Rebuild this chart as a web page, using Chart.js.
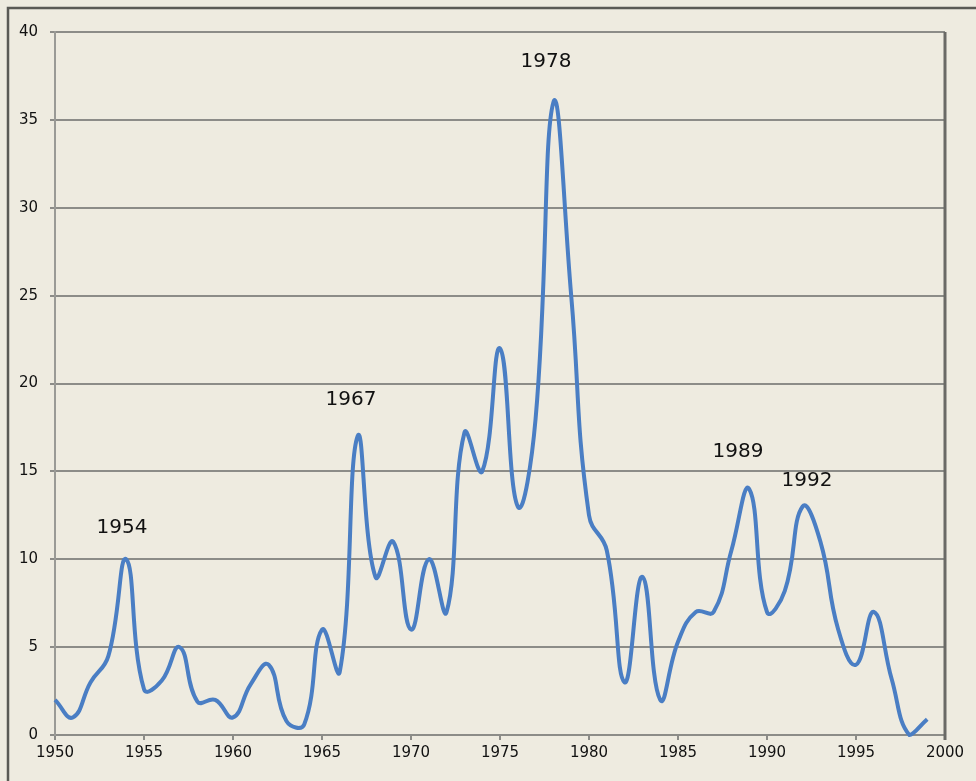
<!DOCTYPE html>
<html>
<head>
<meta charset="utf-8">
<script src="https://cdn.jsdelivr.net/npm/chart.js@4"></script>
<style>
  body { margin: 0; background: #eeebe0; }
  #wrap { width: 976px; height: 781px; }
</style>
</head>
<body>
<div id="wrap"><canvas id="myChart" width="976" height="781"></canvas></div>
<script>
// yearly values
const years = [1950, 1951, 1952, 1953, 1954, 1955, 1956, 1957, 1958, 1959,
               1960, 1961, 1962, 1963, 1964, 1965, 1966, 1967, 1968, 1969,
               1970, 1971, 1972, 1973, 1974, 1975, 1976, 1977, 1978, 1979,
               1980, 1981, 1982, 1983, 1984, 1985, 1986, 1987, 1988, 1989,
               1990, 1991, 1992, 1993, 1994, 1995, 1996, 1997, 1998, 1999];
const values = [2, 1, 3, 4.5, 10, 2.6, 3.1, 5, 1.9, 2,
                1, 2.9, 4, 0.8, 0.6, 6, 3.6, 17, 9, 11,
                6, 10, 7, 17.2, 15, 22, 13, 18, 36, 25,
                12.5, 10.5, 3, 9, 2, 5.3, 7, 7, 10.5, 14,
                7, 8.2, 13, 11, 6, 4, 7, 3.2, 0, 0.9];

// peak labels and where they sit (data units)
const peakLabels = ['1954', '1967', '1978', '1989', '1992'];
const peakLabelX = [1953.76, 1966.63, 1977.58, 1988.37, 1992.25];
const peakLabelY = [11.8, 19.05, 38.3, 16.1, 14.45];

const yTicks = [0, 5, 10, 15, 20, 25, 30, 35, 40];

const points = years.map((yr, i) => ({ x: yr, y: values[i] }));

// frame, right border and peak labels
const decorPlugin = {
    id: 'decor',
    beforeDraw(chart) {
        const ctx = chart.ctx;
        ctx.save();
        ctx.fillStyle = '#eeebe0';
        ctx.fillRect(0, 0, chart.width, chart.height);
        ctx.strokeStyle = '#5a5a55';
        ctx.lineWidth = 2.5;
        ctx.beginPath();
        ctx.moveTo(8, chart.height);
        ctx.lineTo(8, 8);
        ctx.lineTo(chart.width, 8);
        ctx.stroke();
        ctx.restore();
    },
    afterDatasetsDraw(chart) {
        const ctx = chart.ctx;
        const area = chart.chartArea;
        const xs = chart.scales.x, ys = chart.scales.y;
        ctx.save();
        ctx.strokeStyle = '#6a6a66';
        ctx.lineWidth = 3;
        ctx.beginPath();
        ctx.moveTo(area.right, area.top);
        ctx.lineTo(area.right, area.bottom + 5);
        ctx.stroke();
        ctx.fillStyle = '#111';
        ctx.font = '20px "DejaVu Sans"';
        ctx.textAlign = 'center';
        ctx.textBaseline = 'middle';
        peakLabels.forEach((txt, i) => {
            ctx.fillText(txt, xs.getPixelForValue(peakLabelX[i]), ys.getPixelForValue(peakLabelY[i]));
        });
        ctx.restore();
    }
};

const ctx = document.getElementById('myChart').getContext('2d');
const myChart = new Chart(ctx, {
    type: 'line',
    data: {
        datasets: [{
            data: points,
            borderColor: '#4a7ec4',
            borderWidth: 4,
            pointRadius: 0,
            tension: 0.45,
            fill: false,
            clip: 6
        }]
    },
    options: {
        responsive: false,
        animation: false,
        layout: { padding: { left: 0, top: 32, right: 31, bottom: 0 } },
        plugins: { legend: { display: false }, tooltip: { enabled: false } },
        scales: {
            x: {
                type: 'linear',
                min: 1950,
                max: 2000,
                grid: { drawOnChartArea: false, drawTicks: true, tickLength: 5, color: '#8c8c88', lineWidth: 2 },
                border: { display: false },
                ticks: {
                    stepSize: 5,
                    color: '#111',
                    font: { family: 'DejaVu Sans', size: 15 },
                    padding: 4,
                    maxRotation: 0,
                    callback: v => String(v)
                },
                afterFit(scale) {
                    scale.height = 46;
                    scale.paddingLeft = 0;
                    scale.paddingRight = 0;
                }
            },
            y: {
                min: 0,
                max: 40,
                afterBuildTicks(scale) {
                    scale.ticks = yTicks.map(v => ({ value: v }));
                },
                grid: { color: '#8c8c88', lineWidth: 2, tickLength: 5 },
                border: { display: true, color: '#9a9a96', width: 2 },
                ticks: {
                    color: '#111',
                    font: { family: 'DejaVu Sans', size: 15 },
                    padding: 12,
                    callback: v => String(v)
                },
                afterFit(scale) {
                    scale.width = 55;
                    scale.paddingTop = 0;
                    scale.paddingBottom = 0;
                }
            }
        }
    },
    plugins: [decorPlugin]
});
</script>
</body>
</html>
